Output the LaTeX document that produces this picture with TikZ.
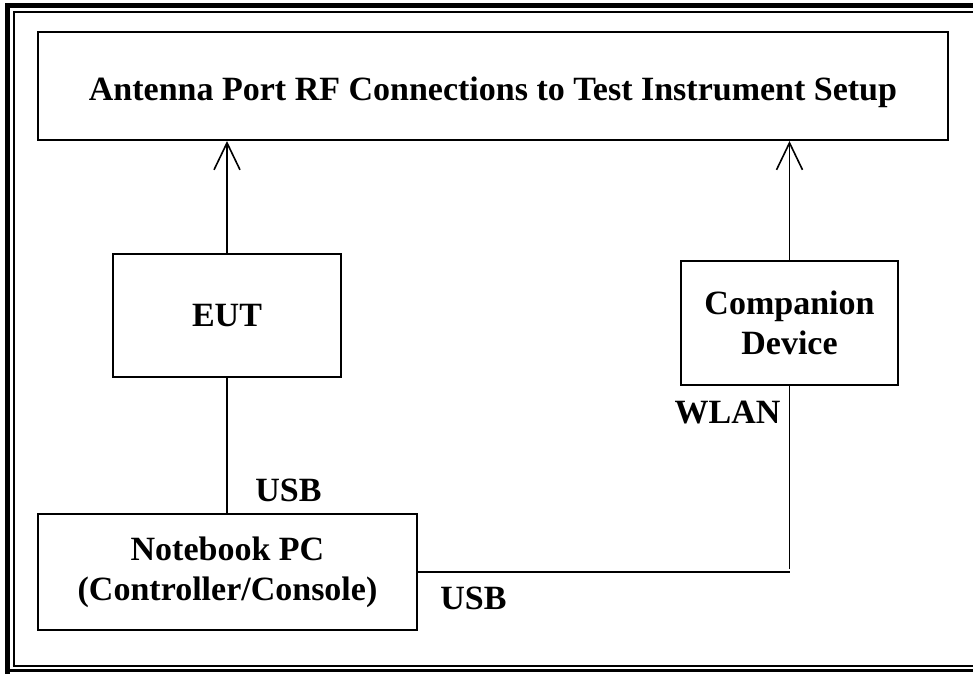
\documentclass[tikz,border=0pt]{standalone}
\usepackage{fontspec}
\setmainfont{Liberation Serif}
\usetikzlibrary{arrows.meta}
\begin{document}
\begin{tikzpicture}[x=1pt,y=-1pt,
  box/.style={draw, line width=2pt, inner sep=0pt, align=center, font=\bfseries\fontsize{34}{40}\selectfont},
  lbl/.style={inner sep=0pt, font=\bfseries\fontsize{34}{40}\selectfont},
  conn/.style={line width=1.6pt},
  arr/.style={line width=1.6pt, -{Straight Barb[length=27pt, width=26pt, line width=1.6pt]}}]
\clip (0,0) rectangle (973,673);
\fill[white] (0,0) rectangle (973,673);
% page frame
\draw[line width=5pt] (7.5,690) -- (7.5,5.5) -- (990,5.5);
\draw[line width=3pt] (5,670.5) -- (990,670.5);
\draw[line width=2pt] (13.5,665.5) -- (13.5,12) -- (990,12);
\draw[line width=2pt] (12.5,665.5) -- (990,665.5);
% nodes
\node[box, minimum width=910pt, minimum height=108pt, text height=36pt, text depth=7.5pt] (title) at (493,86) {Antenna Port RF Connections to Test Instrument Setup};
\node[box, minimum width=228pt, minimum height=123pt] (eut) at (227,315.5) {EUT};
\node[box, minimum width=217pt, minimum height=124pt] (comp) at (789.5,323) {Companion\\Device};
\node[box, minimum width=379pt, minimum height=116pt] (nb) at (227.5,572) {Notebook PC\\(Controller/Console)};
\coordinate (corner) at (789.5,572);
% connectors
\draw[arr] (eut.north) -- (eut.north |- title.south);
\draw[arr] (comp.north) -- (comp.north |- title.south);
\draw[conn] (eut.south) -- (eut.south |- nb.north);
\draw[conn] (nb.east |- corner) -- (corner);
\draw[conn] (comp.south) -- ([yshift=3pt]corner);
% labels
\node[lbl] (usb1) at (288.5,490) {USB};
\node[lbl] (usb2) at (473.5,598) {USB};
\node[lbl] (wlan) at (727.5,413) {WLAN};
\end{tikzpicture}
\end{document}
